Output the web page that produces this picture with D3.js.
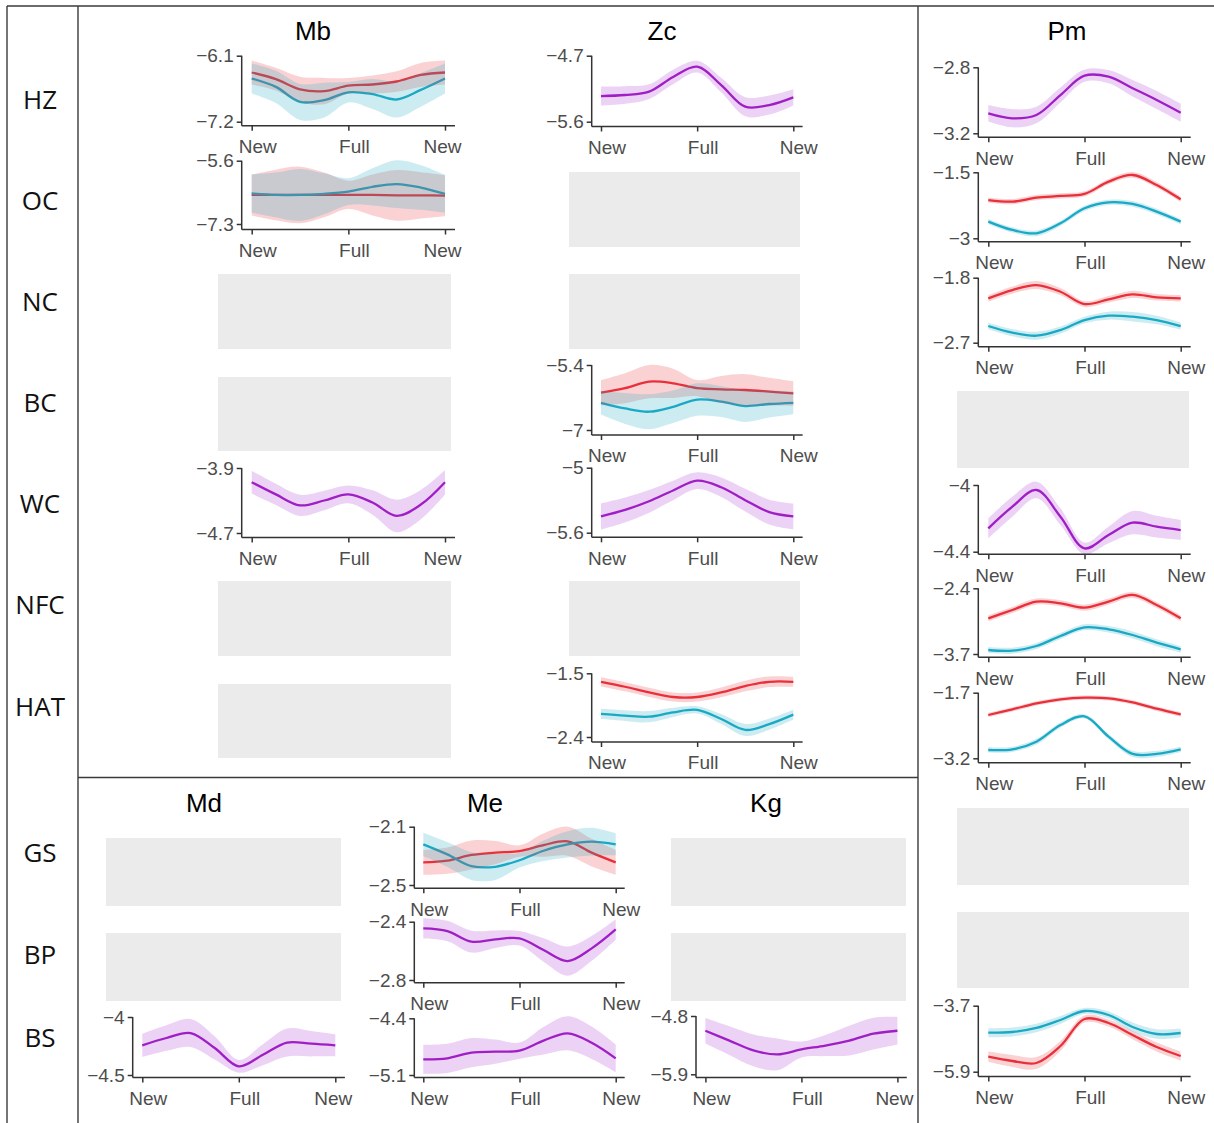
<!DOCTYPE html>
<html><head><meta charset="utf-8">
<script src="https://cdn.jsdelivr.net/npm/d3@7"></script>
<style>body{margin:0;background:#fff}svg{display:block}</style>
</head><body>
<svg id="c" width="1214" height="1123"></svg>
<script>
// ---------- data ----------
const phaseX = [0, 0.125, 0.25, 0.375, 0.5, 0.625, 0.75, 0.875, 1];
const phaseTickPos = [0, 0.5, 1];
const phaseTickLabels = ["New", "Full", "New"];
const rowLabels = ["HZ", "OC", "NC", "BC", "WC", "NFC", "HAT", "GS", "BP", "BS"];
const topTitles = ["Mb", "Zc", "Pm"];
const bottomTitles = ["Md", "Me", "Kg"];

// Mb
const Mb_HZ_ticks = [-7.2, -6.1];
const Mb_HZ_red = [-6.38, -6.49, -6.66, -6.69, -6.6, -6.58, -6.53, -6.42, -6.38];
const Mb_HZ_red_se = [0.2, 0.19, 0.21, 0.22, 0.13, 0.15, 0.17, 0.2, 0.2];
const Mb_HZ_cyan = [-6.48, -6.62, -6.87, -6.84, -6.71, -6.74, -6.83, -6.67, -6.48];
const Mb_HZ_cyan_se = [0.25, 0.27, 0.3, 0.29, 0.17, 0.25, 0.3, 0.28, 0.25];
const Mb_OC_ticks = [-7.3, -5.6];
const Mb_OC_red = [-6.52, -6.52, -6.52, -6.52, -6.52, -6.52, -6.53, -6.53, -6.54];
const Mb_OC_red_se = [0.55, 0.68, 0.76, 0.6, 0.38, 0.55, 0.68, 0.62, 0.55];
const Mb_OC_cyan = [-6.48, -6.52, -6.52, -6.49, -6.43, -6.3, -6.23, -6.32, -6.49];
const Mb_OC_cyan_se = [0.51, 0.6, 0.7, 0.55, 0.36, 0.5, 0.64, 0.6, 0.51];
const Mb_WC_ticks = [-4.7, -3.9];
const Mb_WC = [-4.075, -4.225, -4.36, -4.3, -4.225, -4.325, -4.49, -4.35, -4.075];
const Mb_WC_se = [0.14, 0.13, 0.13, 0.12, 0.11, 0.15, 0.2, 0.18, 0.15];

// Zc
const Zc_HZ_ticks = [-5.6, -4.7];
const Zc_HZ = [-5.25, -5.236, -5.19, -4.99, -4.85, -5.1, -5.395, -5.373, -5.268];
const Zc_HZ_se = [0.13, 0.12, 0.1, 0.1, 0.08, 0.1, 0.13, 0.13, 0.11];
const Zc_BC_ticks = [-7, -5.4];
const Zc_BC_red = [-6.08, -5.97, -5.81, -5.85, -5.97, -6.0, -6.015, -6.055, -6.1];
const Zc_BC_red_se = [0.31, 0.37, 0.41, 0.36, 0.2, 0.33, 0.39, 0.34, 0.3];
const Zc_BC_cyan = [-6.33, -6.47, -6.55, -6.43, -6.25, -6.3, -6.41, -6.36, -6.33];
const Zc_BC_cyan_se = [0.29, 0.38, 0.43, 0.4, 0.4, 0.38, 0.39, 0.33, 0.28];
const Zc_WC_ticks = [-5.6, -5];
const Zc_WC = [-5.45, -5.39, -5.31, -5.21, -5.12, -5.18, -5.3, -5.41, -5.45];
const Zc_WC_se = [0.12, 0.115, 0.105, 0.09, 0.077, 0.09, 0.105, 0.115, 0.12];
const Zc_HAT_ticks = [-2.4, -1.5];
const Zc_HAT_red = [-1.62, -1.69, -1.77, -1.835, -1.835, -1.77, -1.68, -1.62, -1.62];
const Zc_HAT_red_se = [0.065, 0.065, 0.065, 0.065, 0.065, 0.07, 0.075, 0.075, 0.07];
const Zc_HAT_cyan = [-2.074, -2.098, -2.113, -2.051, -2.017, -2.146, -2.3, -2.218, -2.084];
const Zc_HAT_cyan_se = [0.072, 0.075, 0.08, 0.065, 0.05, 0.07, 0.085, 0.08, 0.07];

// Pm
const Pm_HZ_ticks = [-3.2, -2.8];
const Pm_HZ = [-3.079, -3.109, -3.089, -2.968, -2.851, -2.857, -2.927, -2.998, -3.075];
const Pm_HZ_se = [0.05, 0.055, 0.05, 0.045, 0.037, 0.04, 0.05, 0.055, 0.055];
const Pm_OC_ticks = [-3, -1.5];
const Pm_OC_red = [-2.13, -2.167, -2.076, -2.038, -1.992, -1.712, -1.561, -1.788, -2.114];
const Pm_OC_red_se = [0.06, 0.06, 0.06, 0.06, 0.06, 0.06, 0.065, 0.065, 0.06];
const Pm_OC_cyan = [-2.621, -2.811, -2.886, -2.659, -2.318, -2.182, -2.22, -2.394, -2.621];
const Pm_OC_cyan_se = [0.06, 0.06, 0.065, 0.06, 0.06, 0.06, 0.065, 0.065, 0.06];
const Pm_NC_ticks = [-2.7, -1.8];
const Pm_NC_red = [-2.086, -1.971, -1.902, -1.994, -2.165, -2.1, -2.031, -2.072, -2.086];
const Pm_NC_red_se = [0.045, 0.05, 0.055, 0.05, 0.04, 0.045, 0.05, 0.045, 0.045];
const Pm_NC_cyan = [-2.469, -2.561, -2.603, -2.525, -2.386, -2.326, -2.34, -2.386, -2.469];
const Pm_NC_cyan_se = [0.045, 0.05, 0.055, 0.05, 0.045, 0.055, 0.065, 0.06, 0.05];
const Pm_WC_ticks = [-4.4, -4];
const Pm_WC = [-4.26, -4.13, -4.03, -4.19, -4.38, -4.3, -4.226, -4.25, -4.27];
const Pm_WC_se = [0.06, 0.06, 0.05, 0.05, 0.035, 0.05, 0.07, 0.065, 0.06];
const Pm_NFC_ticks = [-3.7, -2.4];
const Pm_NFC_red = [-2.994, -2.829, -2.664, -2.697, -2.783, -2.664, -2.532, -2.73, -2.994];
const Pm_NFC_red_se = [0.06, 0.06, 0.06, 0.06, 0.06, 0.06, 0.06, 0.06, 0.06];
const Pm_NFC_cyan = [-3.621, -3.634, -3.542, -3.344, -3.172, -3.212, -3.324, -3.476, -3.607];
const Pm_NFC_cyan_se = [0.06, 0.06, 0.06, 0.06, 0.06, 0.065, 0.07, 0.07, 0.065];
const Pm_HAT_ticks = [-3.2, -1.7];
const Pm_HAT_red = [-2.21, -2.081, -1.944, -1.852, -1.814, -1.829, -1.921, -2.066, -2.195];
const Pm_HAT_red_se = [0.05, 0.05, 0.05, 0.05, 0.05, 0.05, 0.05, 0.05, 0.05];
const Pm_HAT_cyan = [-3.01, -2.995, -2.82, -2.439, -2.24, -2.705, -3.1, -3.1, -2.995];
const Pm_HAT_cyan_se = [0.06, 0.06, 0.065, 0.06, 0.05, 0.06, 0.07, 0.07, 0.06];
const Pm_BS_ticks = [-5.9, -3.7];
const Pm_BS_red = [-5.4, -5.543, -5.61, -5.043, -4.143, -4.277, -4.677, -5.077, -5.377];
const Pm_BS_red_se = [0.17, 0.2, 0.2, 0.17, 0.12, 0.12, 0.14, 0.15, 0.15];
const Pm_BS_cyan = [-4.6, -4.577, -4.443, -4.177, -3.877, -4.01, -4.41, -4.643, -4.61];
const Pm_BS_cyan_se = [0.15, 0.15, 0.14, 0.13, 0.1, 0.12, 0.15, 0.16, 0.15];

// Md, Me, Kg
const Md_BS_ticks = [-4.5, -4];
const Md_BS = [-4.244, -4.181, -4.138, -4.267, -4.425, -4.325, -4.22, -4.23, -4.244];
const Md_BS_se = [0.1, 0.11, 0.12, 0.1, 0.055, 0.09, 0.12, 0.11, 0.095];
const Me_GS_ticks = [-2.5, -2.1];
const Me_GS_red = [-2.345, -2.333, -2.294, -2.278, -2.267, -2.226, -2.2, -2.278, -2.345];
const Me_GS_red_se = [0.085, 0.09, 0.1, 0.08, 0.04, 0.08, 0.1, 0.095, 0.085];
const Me_GS_cyan = [-2.221, -2.29, -2.37, -2.375, -2.33, -2.265, -2.221, -2.203, -2.221];
const Me_GS_cyan_se = [0.08, 0.085, 0.095, 0.09, 0.05, 0.07, 0.09, 0.095, 0.075];
const Me_BP_ticks = [-2.8, -2.4];
const Me_BP = [-2.446, -2.464, -2.537, -2.521, -2.514, -2.594, -2.67, -2.583, -2.453];
const Me_BP_se = [0.07, 0.07, 0.075, 0.06, 0.05, 0.08, 0.1, 0.085, 0.07];
const Me_BS_ticks = [-5.1, -4.4];
const Me_BS = [-4.906, -4.894, -4.824, -4.812, -4.799, -4.676, -4.585, -4.701, -4.894];
const Me_BS_se = [0.18, 0.18, 0.18, 0.15, 0.1, 0.17, 0.21, 0.2, 0.17];
const Kg_BS_ticks = [-5.9, -4.8];
const Kg_BS = [-5.078, -5.264, -5.449, -5.524, -5.431, -5.357, -5.264, -5.134, -5.078];
const Kg_BS_se = [0.24, 0.27, 0.3, 0.3, 0.15, 0.2, 0.28, 0.3, 0.26];

// ---------- drawing ----------
const COL = {purple: "#9f1fc6", red: "#e8303a", cyan: "#1aa9c4"};
const OP = {purple: 0.2, red: 0.22, cyan: 0.22};
const svg = d3.select("#c");
const TICKFONT = "'Liberation Sans', Arial, sans-serif";

// column geometry: [axisX, firstTick, lastTick, lastLabelShift]
const colMb = [241.7, 251.7, 445, -3], colZc = [591.7, 601, 793.3, 5], colPm = [978.3, 988.3, 1180.7, 5];
const colMd = [132.7, 142.3, 335.3, -2.5], colMe = [414.3, 423.3, 615.7, 5], colKg = [696, 705.4, 897.4, -3.5];

const panels = [
  {c: colMb, yT: 55.7, yB: 121.7, axY: 125.7, dom: Mb_HZ_ticks, s: [["red", Mb_HZ_red, Mb_HZ_red_se], ["cyan", Mb_HZ_cyan, Mb_HZ_cyan_se]]},
  {c: colMb, yT: 160.7, yB: 224, axY: 229.5, dom: Mb_OC_ticks, s: [["red", Mb_OC_red, Mb_OC_red_se], ["cyan", Mb_OC_cyan, Mb_OC_cyan_se]]},
  {c: colMb, yT: 468, yB: 533, axY: 537.5, dom: Mb_WC_ticks, s: [["purple", Mb_WC, Mb_WC_se]]},
  {c: colZc, yT: 55.7, yB: 121.7, axY: 126.5, dom: Zc_HZ_ticks, s: [["purple", Zc_HZ, Zc_HZ_se]]},
  {c: colZc, yT: 365, yB: 430, axY: 435, dom: Zc_BC_ticks, s: [["red", Zc_BC_red, Zc_BC_red_se], ["cyan", Zc_BC_cyan, Zc_BC_cyan_se]]},
  {c: colZc, yT: 467.7, yB: 532.7, axY: 537.3, dom: Zc_WC_ticks, s: [["purple", Zc_WC, Zc_WC_se]]},
  {c: colZc, yT: 673.3, yB: 737, axY: 742, dom: Zc_HAT_ticks, s: [["red", Zc_HAT_red, Zc_HAT_red_se], ["cyan", Zc_HAT_cyan, Zc_HAT_cyan_se]]},
  {c: colPm, yT: 67.3, yB: 133.3, axY: 137.3, dom: Pm_HZ_ticks, s: [["purple", Pm_HZ, Pm_HZ_se]]},
  {c: colPm, yT: 172.3, yB: 238.3, axY: 241.7, dom: Pm_OC_ticks, s: [["red", Pm_OC_red, Pm_OC_red_se], ["cyan", Pm_OC_cyan, Pm_OC_cyan_se]]},
  {c: colPm, yT: 277.7, yB: 342.7, axY: 346.7, dom: Pm_NC_ticks, s: [["red", Pm_NC_red, Pm_NC_red_se], ["cyan", Pm_NC_cyan, Pm_NC_cyan_se]]},
  {c: colPm, yT: 485, yB: 551.7, axY: 554.3, dom: Pm_WC_ticks, s: [["purple", Pm_WC, Pm_WC_se]]},
  {c: colPm, yT: 588.3, yB: 654, axY: 657.3, dom: Pm_NFC_ticks, s: [["red", Pm_NFC_red, Pm_NFC_red_se], ["cyan", Pm_NFC_cyan, Pm_NFC_cyan_se]]},
  {c: colPm, yT: 692.7, yB: 758.3, axY: 762.7, dom: Pm_HAT_ticks, s: [["red", Pm_HAT_red, Pm_HAT_red_se], ["cyan", Pm_HAT_cyan, Pm_HAT_cyan_se]]},
  {c: colPm, yT: 1005.7, yB: 1071.7, axY: 1076.5, dom: Pm_BS_ticks, s: [["red", Pm_BS_red, Pm_BS_red_se], ["cyan", Pm_BS_cyan, Pm_BS_cyan_se]]},
  {c: colMd, yT: 1017, yB: 1075, axY: 1077.5, dom: Md_BS_ticks, s: [["purple", Md_BS, Md_BS_se]]},
  {c: colMe, yT: 826.7, yB: 885, axY: 888.3, dom: Me_GS_ticks, s: [["red", Me_GS_red, Me_GS_red_se], ["cyan", Me_GS_cyan, Me_GS_cyan_se]]},
  {c: colMe, yT: 921.7, yB: 980, axY: 982.7, dom: Me_BP_ticks, s: [["purple", Me_BP, Me_BP_se]]},
  {c: colMe, yT: 1018.3, yB: 1075, axY: 1077.5, dom: Me_BS_ticks, s: [["purple", Me_BS, Me_BS_se]]},
  {c: colKg, yT: 1016, yB: 1074.3, axY: 1077.5, dom: Kg_BS_ticks, s: [["purple", Kg_BS, Kg_BS_se]]}
];

// empty (grey) cells: [x0, x1, y0, y1]
const emptyCells = [
  [218, 451, 274, 349], [218, 451, 377, 451], [218, 451, 581, 656], [218, 451, 684, 758],
  [569, 800, 172, 247], [569, 800, 274, 349], [569, 800, 581, 656],
  [957, 1189, 391, 468], [957, 1189, 808, 885], [957, 1189, 912, 988],
  [106, 341, 838, 906], [106, 341, 933, 1001],
  [671, 906, 838, 906], [671, 906, 933, 1001]
];

svg.append("g").selectAll("rect").data(emptyCells).join("rect")
  .attr("x", d => d[0]).attr("y", d => d[2])
  .attr("width", d => d[1] - d[0]).attr("height", d => d[3] - d[2])
  .attr("fill", "#ebebeb");

// frame lines
const frame = [
  [7, 6, 1214, 6], [7, 6, 7, 1123], [78, 6, 78, 1123], [918, 6, 918, 1123], [78, 777.5, 918, 777.5]
];
svg.append("g").selectAll("line").data(frame).join("line")
  .attr("x1", d => d[0]).attr("y1", d => d[1]).attr("x2", d => d[2]).attr("y2", d => d[3])
  .attr("stroke", "#3a3a3a").attr("stroke-width", 1.4);

// row labels
const rowY = [100, 201, 302, 403, 504, 605, 707, 853, 955, 1038];
svg.append("g").selectAll("text").data(rowLabels).join("text")
  .attr("x", 40).attr("y", (d, i) => rowY[i] + 9)
  .attr("text-anchor", "middle")
  .attr("font-family", "'Open Sans', 'Noto Sans', sans-serif")
  .attr("font-size", 26).attr("fill", "#111")
  .text(d => d);

// column titles
const topTitleX = [313, 662, 1067], bottomTitleX = [204, 485, 766];
const titleG = svg.append("g").attr("font-family", TICKFONT).attr("font-size", 26).attr("fill", "#000").attr("text-anchor", "middle");
titleG.selectAll("text.t").data(topTitles).join("text").attr("class", "t")
  .attr("x", (d, i) => topTitleX[i]).attr("y", 40).text(d => d);
titleG.selectAll("text.b").data(bottomTitles).join("text").attr("class", "b")
  .attr("x", (d, i) => bottomTitleX[i]).attr("y", 812).text(d => d);

function drawPanel(p) {
  const [ax, x0, x1, lastShift] = p.c;
  const g = svg.append("g");
  const x = d3.scaleLinear().domain([0, 1]).range([x0, x1]);
  const y = d3.scaleLinear().domain(p.dom).range([p.yB, p.yT]);
  const curve = d3.curveCatmullRom.alpha(0.5);
  const line = d3.line().x((d, i) => x(phaseX[i])).y(d => y(d)).curve(curve);
  const area = d3.area().x((d, i) => x(phaseX[i]))
    .y0(d => y(d[0] - d[1])).y1(d => y(d[0] + d[1])).curve(curve);
  p.s.forEach(s => {
    g.append("path").attr("d", line(s[1])).attr("fill", "none")
      .attr("stroke", COL[s[0]]).attr("stroke-width", 2.3).attr("stroke-linejoin", "round");
  });
  p.s.forEach(s => {
    g.append("path").attr("d", area(s[1].map((m, i) => [m, s[2][i]])))
      .attr("fill", COL[s[0]]).attr("fill-opacity", OP[s[0]]);
  });
  // axes
  const yAxis = d3.axisLeft(y).tickValues(p.dom).tickSize(5).tickPadding(3).tickFormat(d3.format(""));
  const gy = g.append("g").attr("transform", `translate(${ax},0)`).call(yAxis);
  gy.select(".domain").remove();
  const xAxis = d3.axisBottom(x).tickValues(phaseTickPos).tickSize(5).tickPadding(9)
    .tickFormat((d, i) => phaseTickLabels[i]);
  const gx = g.append("g").attr("transform", `translate(0,${p.axY})`).call(xAxis);
  gx.select(".domain").remove();
  gx.selectAll(".tick text").attr("dx", (d, i) => i === 2 ? lastShift : 5.5);
  [gy, gx].forEach(a => {
    a.attr("font-family", TICKFONT).attr("font-size", 19);
    a.selectAll(".tick line").attr("stroke", "#333").attr("stroke-width", 1.5);
    a.selectAll(".tick text").attr("fill", "#4d4d4d");
  });
  g.append("line").attr("x1", ax).attr("x2", ax).attr("y1", p.yT).attr("y2", p.axY)
    .attr("stroke", "#333").attr("stroke-width", 1.5);
  g.append("line").attr("x1", ax).attr("x2", x1 + (x0 - ax)).attr("y1", p.axY).attr("y2", p.axY)
    .attr("stroke", "#333").attr("stroke-width", 1.5);
}
panels.forEach(drawPanel);
</script>
</body></html>
